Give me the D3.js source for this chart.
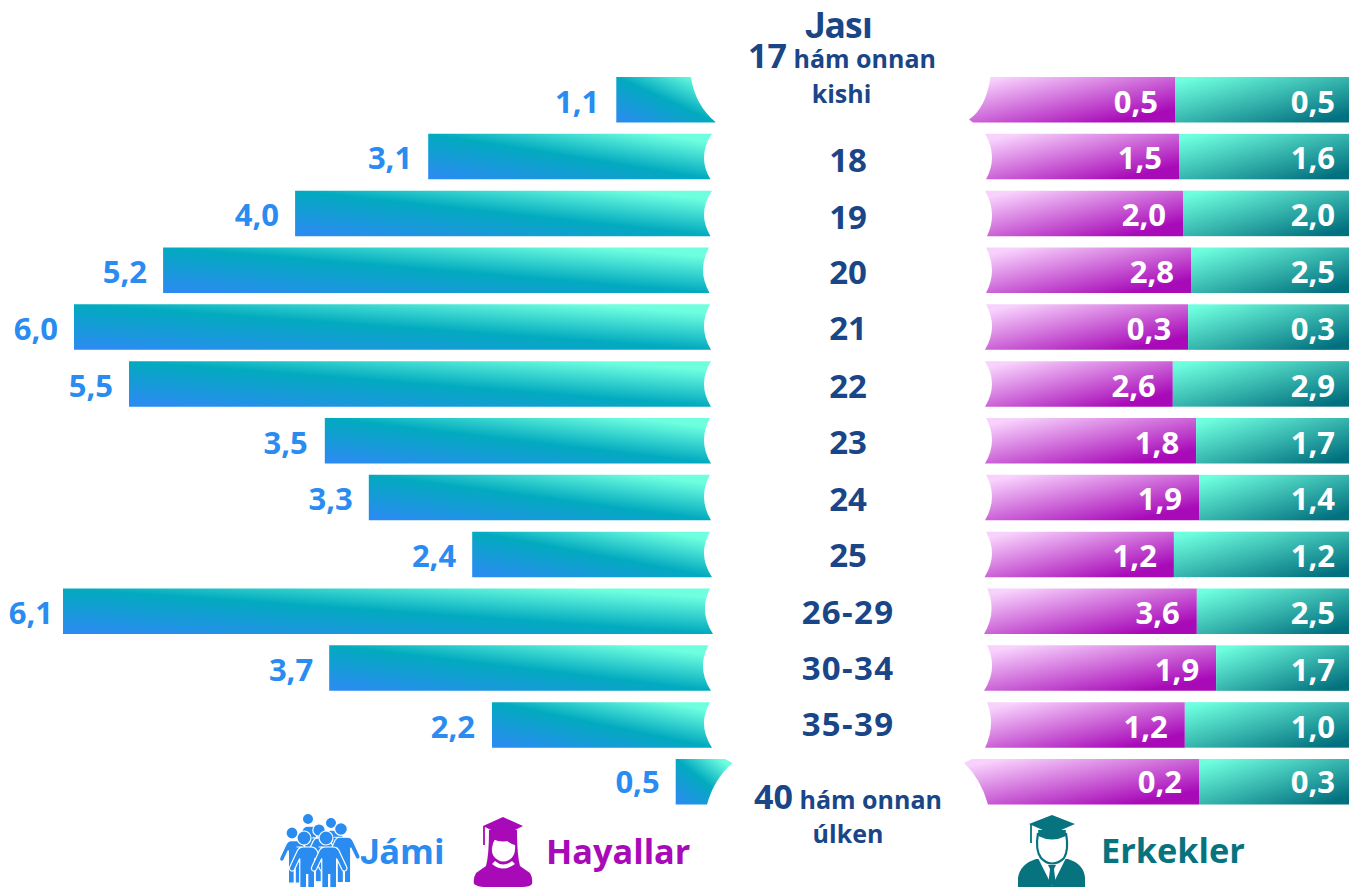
<!DOCTYPE html>
<html><head><meta charset="utf-8">
<script src="https://cdn.jsdelivr.net/npm/d3@7/dist/d3.min.js"></script>
<style>html,body{margin:0;padding:0;background:#fff;overflow:hidden}svg{display:block}text{font-family:"Open Sans","Noto Sans",sans-serif;font-weight:700}</style>
</head><body><svg id="c" width="1349" height="887"></svg>
<script>
// ---- data ----
const ageLabels = ["17","18","19","20","21","22","23","24","25","26-29","30-34","35-39","40"];
const totalLabels = [1.1,3.1,4.0,5.2,6.0,5.5,3.5,3.3,2.4,6.1,3.7,2.2,0.5];
// bar lengths as drawn (two rows of the source are not drawn to their printed value)
const totalBars = [1.07,2.78,3.99,5.19,6.0,5.5,3.72,3.32,2.38,6.1,3.68,2.2,0.53];
const womenLabels = [0.5,1.5,2.0,2.8,0.3,2.6,1.8,1.9,1.2,3.6,1.9,1.2,0.2];
const menLabels = [0.5,1.6,2.0,2.5,0.3,2.9,1.7,1.4,1.2,2.5,1.7,1.0,0.3];
// the right panel is a share bar: part of the row taken by men, as drawn
const menShare = [0.478,0.467,0.456,0.434,0.442,0.484,0.420,0.412,0.481,0.418,0.365,0.451,0.412];
const legendLabels = ["Jámi","Hayallar","Erkekler"];
const titleLabel = "Jası";
const firstAgeSuffix = ["hám onnan","kishi"];
const lastAgeSuffix = ["hám onnan","úlken"];

// ---- layout ----
const svg = d3.select("#c");
const NAVY="#1a4587", BLUE="#2a8cf0", PURPLE="#a80ab8", TEAL="#06737f";
const fmt = d3.formatLocale({decimal:",",thousands:" ",grouping:[3],currency:["",""]}).format(".1f");
const n = ageLabels.length;
const y = d3.scaleLinear().domain([0,n-1]).range([77,759]);
const barH = 45.5;
const xL = d3.scaleLinear().domain([0,6.1]).range([734,63]);
const xR = d3.scaleLinear().domain([0,1]).range([1349,985]);

// gradients
const defs = svg.append("defs");
function grad(id,x1,y1,x2,y2,stops){
  const g=defs.append("linearGradient").attr("id",id).attr("x1",x1).attr("y1",y1).attr("x2",x2).attr("y2",y2);
  stops.forEach(s=>g.append("stop").attr("offset",s[0]).attr("stop-color",s[1]));
}
grad("gL",0,1,1,0,[[0.04,"#2a8cf0"],[0.5,"#02aabf"],[0.9,"#6effdf"]]);
grad("gW",0,0,1,1,[[0.08,"#f8d2fd"],[0.85,"#a80ab8"]]);
grad("gM",0,0,1,1,[[0.06,"#6effdf"],[0.92,"#02707f"]]);

// inner bar ends: [x at top, x at middle, x at bottom] of each row's curved cut
const leftEnds = [null,[712,704,710.5],[712,704,710.5],[709,703,709.5],[710,704,711],[711,704,711],[710,704,711],[710,704,711],[710,704,712],[710,705,713],[708.5,703,711],[710,704,712],null];
const rightEnds = [null,[985,992,986],[985,992,987],[986,992,986],[986,992,985],[985,992,985],[986,992,985],[986,992,985],[986,992,984.5],[987,991.5,984],[987,992,984],[987,991,985],null];

function leftPath(i){
  const p=d3.path(), x0=xL(totalBars[i]), t=y(i), b=t+barH, m=(t+b)/2;
  p.moveTo(x0,t);
  if(i===0){ p.lineTo(691,t); p.quadraticCurveTo(695,105,715.5,b-0.5); p.lineTo(715,b); }
  else if(i===n-1){ p.lineTo(725,t); p.lineTo(732.5,t+4); p.quadraticCurveTo(714,t+20,707,b); }
  else { const e=leftEnds[i]; p.lineTo(e[0],t); p.quadraticCurveTo(2*e[1]-(e[0]+e[2])/2,m,e[2],b); }
  p.lineTo(x0,b); p.closePath(); return p.toString();
}
function womenPath(i){
  const p=d3.path(), x1=xR(menShare[i]), t=y(i), b=t+barH, m=(t+b)/2;
  p.moveTo(x1,t);
  if(i===0){ p.lineTo(990.5,t); p.quadraticCurveTo(986,108,969,b-3); p.lineTo(973,b); }
  else if(i===n-1){ p.lineTo(972,t); p.lineTo(964,t+4); p.quadraticCurveTo(981,t+20,988,b); }
  else { const e=rightEnds[i]; p.lineTo(e[0],t); p.quadraticCurveTo(2*e[1]-(e[0]+e[2])/2,m,e[2],b); }
  p.lineTo(x1,b); p.closePath(); return p.toString();
}
const rows = d3.range(n);
svg.selectAll("path.l").data(rows).join("path").attr("class","l").attr("d",leftPath).attr("fill","url(#gL)");
svg.selectAll("path.w").data(rows).join("path").attr("class","w").attr("d",womenPath).attr("fill","url(#gW)");
svg.selectAll("rect.m").data(rows).join("rect").attr("class","m")
  .attr("x",i=>xR(menShare[i])).attr("y",i=>y(i)).attr("width",i=>1349-xR(menShare[i])).attr("height",barH).attr("fill","url(#gM)");

// value labels
const labelBase = i=>y(i)+(i===n-1?34:35.5);
const leftGap = [17,16,16,16,16,16,17,16,16,10,16,17,16];
const VS=31;
svg.selectAll("text.tl").data(rows).join("text").attr("class","tl")
  .attr("x",i=>xL(totalBars[i])-leftGap[i]).attr("y",labelBase).attr("text-anchor","end")
  .attr("font-size",VS).attr("fill",BLUE).text(i=>fmt(totalLabels[i]));
svg.selectAll("text.wl").data(rows).join("text").attr("class","wl")
  .attr("x",i=>xR(menShare[i])-17).attr("y",labelBase).attr("text-anchor","end")
  .attr("font-size",VS).attr("fill","#fff").text(i=>fmt(womenLabels[i]));
svg.selectAll("text.ml").data(rows).join("text").attr("class","ml")
  .attr("x",1335).attr("y",labelBase).attr("text-anchor","end")
  .attr("font-size",VS).attr("fill","#fff").text(i=>fmt(menLabels[i]));

// centre column
const C=848;
const ageBase=[0,38,38,36,36,36.5,36,36,35,35,35,34,0];
function ctext(x,yy,size,str,anchor){ return svg.append("text").attr("x",x).attr("y",yy).attr("font-size",size).attr("text-anchor",anchor||"middle").attr("fill",NAVY).text(str); }
const tt=ctext(838.5,38,35.5,"").attr("letter-spacing",-0.8);
tt.append("tspan").style("font-family","Roboto").attr("font-size",36).text(titleLabel[0]);
tt.append("tspan").text(titleLabel.slice(1));
const t0=ctext(842,68,25,"");
t0.append("tspan").attr("font-size",34).text(ageLabels[0]);
t0.append("tspan").text(" "+firstAgeSuffix[0]);
ctext(841.5,103,25,firstAgeSuffix[1]);
svg.selectAll("text.age").data(rows.slice(1,n-1)).join("text").attr("class","age")
  .attr("x",C).attr("y",i=>y(i)+ageBase[i]).attr("text-anchor","middle").attr("font-size",33)
  .attr("letter-spacing",i=>ageLabels[i].length>2?1.3:0).attr("fill",NAVY).text(i=>ageLabels[i]);
const t1=ctext(848,809,25,"");
t1.append("tspan").attr("font-size",34).text(ageLabels[n-1]);
t1.append("tspan").text(" "+lastAgeSuffix[0]);
ctext(848,843,25,lastAgeSuffix[1]);

// legend
const l0=svg.append("text").attr("x",360).attr("y",864).attr("font-size",34.5).attr("fill",BLUE);
l0.append("tspan").style("font-family","Roboto").text(legendLabels[0][0]);
l0.append("tspan").text(legendLabels[0].slice(1));
function leg(x,yy,col,str){ svg.append("text").attr("x",x).attr("y",yy).attr("font-size",34.3).attr("fill",col).text(str); }
leg(546,864,PURPLE,legendLabels[1]);
leg(1101,863,TEAL,legendLabels[2]);

// icons
function person(g,cx,hy,r){
  const s=r/7, w=1.06*s;
  const body=`M${cx-7*w} ${hy+9*s} h${14*w} q${3*w} 0 ${5*w} ${3*s} l${7.5*w} ${17*s} q${1*w} ${3*s} ${-1.5*w} ${4*s} q${-2*w} ${0.5*s} ${-3*w} ${-1.5*s} l${-5*w} ${-11*s} v${38*s} h${-6.5*w} v${-22*s} h${-1*w} v${22*s} h${-6.5*w} v${-38*s} l${-5*w} ${11*s} q${-1*w} ${2*s} ${-3*w} ${1.5*s} q${-2.5*w} ${-1*s} ${-1.5*w} ${-4*s} l${7.5*w} ${-17*s} q${2*w} ${-3*s} ${5*w} ${-3*s} z`;
  g.append("path").attr("d",body).attr("fill",BLUE).attr("stroke","#fff").attr("stroke-width",1.2);
  g.append("circle").attr("cx",cx).attr("cy",hy).attr("r",r).attr("fill",BLUE).attr("stroke","#fff").attr("stroke-width",1.2);
}
const pg=svg.append("g");
person(pg,308,819,5.6);
person(pg,331,823,5.6);
person(pg,319,830,6.2);
person(pg,292,833,6);
person(pg,341,829,6.4);
person(pg,304,838,7);
person(pg,326,838,7);

function cap(g,cx,top,hw,col,tx){
  g.append("path").attr("d",`M${cx} ${top} L${cx+hw} ${top+9} L${cx} ${top+19} L${cx-hw} ${top+9} Z`).attr("fill",col);
  g.append("path").attr("d",`M${cx-hw*0.6} ${top+15} V${top+21} Q${cx} ${top+28} ${cx+hw*0.6} ${top+21} V${top+15} Z`).attr("fill",col);
  g.append("path").attr("d",`M${tx} ${top+9} V${top+28}`).attr("stroke",col).attr("stroke-width",1.8);
}
// woman
const wg=svg.append("g");
wg.append("path").attr("d","M489 830 Q489 855 486 866 L476 873 Q473 878 474 884 Q478 887 484 887 H522 Q530 887 532 884 Q533 878 530 873 L520 866 Q517 855 517 830 Z").attr("fill",PURPLE);
wg.append("path").attr("d","M492 848 Q493 837 502 837 Q510 844 515 845 Q516 856 509 860 Q503 863 498 860 Q491 856 492 848 Z").attr("fill","#fff");
wg.append("path").attr("d","M495 861 Q503 868 512 861 L515 864 Q503 873 492 864 Z").attr("fill","#fff");
cap(wg,503,817,20,PURPLE,484);
// man
const mg=svg.append("g");
mg.append("path").attr("d","M1018 887 V878 Q1020 864 1036 859 H1068 Q1084 864 1085 878 V887 Z").attr("fill",TEAL);
mg.append("path").attr("d","M1038 858 L1052 886 L1066 858 Z").attr("fill","#fff");
mg.append("path").attr("d","M1048 865 h8 l-2 4 l1.5 13 l-3.5 4 l-3.5 -4 l1.5 -13 z").attr("fill",TEAL);
mg.append("path").attr("d","M1038 833 Q1035 850 1041 858 Q1046 863.5 1052 863.5 Q1059 863.5 1064 858 Q1069 850 1066 833").attr("fill","#fff").attr("stroke",TEAL).attr("stroke-width",2.2);
cap(mg,1052,815,23,TEAL,1031);
</script></body></html>
